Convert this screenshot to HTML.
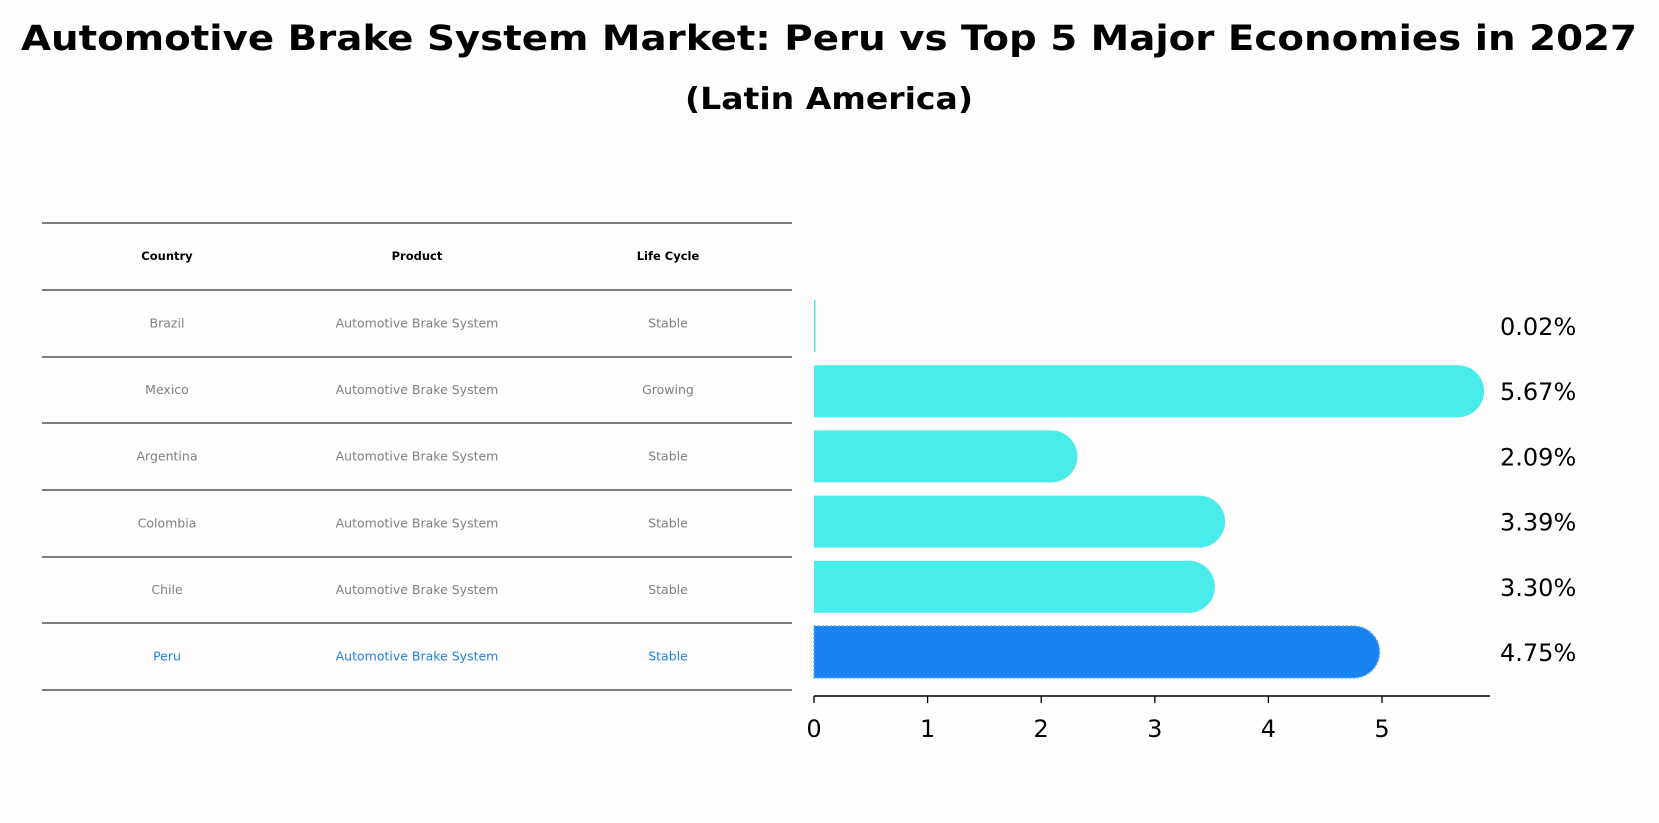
<!DOCTYPE html>
<html><head><meta charset="utf-8">
<style>
body{margin:0;background:#fffdfd;}
svg{display:block;font-family:"DejaVu Sans","Liberation Sans",sans-serif;}
</style></head>
<body>
<svg width="1659" height="823" viewBox="0 0 1659 823">
<rect width="1659" height="823" fill="#fffdfd"/>
<text x="829" y="50" text-anchor="middle" font-size="35" font-weight="bold" textLength="1616" lengthAdjust="spacingAndGlyphs">Automotive Brake System Market: Peru vs Top 5 Major Economies in 2027</text>
<text x="829" y="109" text-anchor="middle" font-size="30" font-weight="bold" textLength="288" lengthAdjust="spacingAndGlyphs">(Latin America)</text>
<g id="table"></g>
<g id="bars"></g>
</svg>
<script>
const countries=["Brazil","Mexico","Argentina","Colombia","Chile","Peru"];
const products=["Automotive Brake System","Automotive Brake System","Automotive Brake System","Automotive Brake System","Automotive Brake System","Automotive Brake System"];
const lifeCycles=["Stable","Growing","Stable","Stable","Stable","Stable"];
const values=[0.02,5.67,2.09,3.39,3.30,4.75];
const ticks=[0,1,2,3,4,5];
const NS="http://www.w3.org/2000/svg";
function mk(t,a,p){const e=document.createElementNS(NS,t);for(const k in a)e.setAttribute(k,a[k]);p.appendChild(e);return e;}
const x=v=>814+v*113.6;
const yc=i=>326+i*65.2;
const bh=52;
const tbl=document.getElementById('table');
const lineYs=[223,290,357,423,490,557,623,690];
lineYs.forEach(y=>{const l=mk('line',{x1:42,x2:792,y1:y,y2:y,stroke:'#000','stroke-width':1},tbl);

});
const cx=[167,417,668];
["Country","Product","Life Cycle"].forEach((h,j)=>{const t=mk('text',{x:cx[j],y:260,'text-anchor':'middle','font-size':11.5,'font-weight':'bold'},tbl);t.textContent=h;

});
countries.forEach((c,i)=>{const y=(lineYs[i+1]+lineYs[i+2])/2+4;const col=c==="Peru"?"#1a82e6":"#808080";
[c,products[i],lifeCycles[i]].forEach((s,j)=>{const t=mk('text',{x:cx[j],y:y,'text-anchor':'middle','font-size':12.5,fill:col},tbl);t.textContent=s;

});});
const g=document.getElementById('bars');
values.forEach((v,i)=>{const peru=countries[i]==="Peru";const col=peru?"#1a82f0":"#4aeceb";
const top=yc(i)-bh/2;const w=x(v)-x(0);
const b=mk('path',{d:`M${x(0)},${top} h${w} a${bh/2},${bh/2} 0 0 1 0,${bh} h${-w} z`,fill:col},g);
if(v<0.1){b.setAttribute('d',`M${x(0)},${top} h1.5 v${bh} h-1.5 z`);}
if(peru){b.setAttribute('stroke','#5bb0f5');b.setAttribute('stroke-dasharray','2,2');b.setAttribute('stroke-width','1.5');}


const t=mk('text',{x:1500,y:yc(i)+9,'font-size':24},g);t.textContent=v.toFixed(2)+'%';

});
const ax=mk('line',{x1:x(0),x2:1490,y1:696,y2:696,stroke:'#000','stroke-width':1.5},g);


ticks.forEach(tv=>{const l=mk('line',{x1:x(tv),x2:x(tv),y1:696,y2:703,stroke:'#000','stroke-width':1.3},g);


const t=mk('text',{x:x(tv),y:737,'text-anchor':'middle','font-size':24},g);t.textContent=tv;

});
</script>
</body></html>
